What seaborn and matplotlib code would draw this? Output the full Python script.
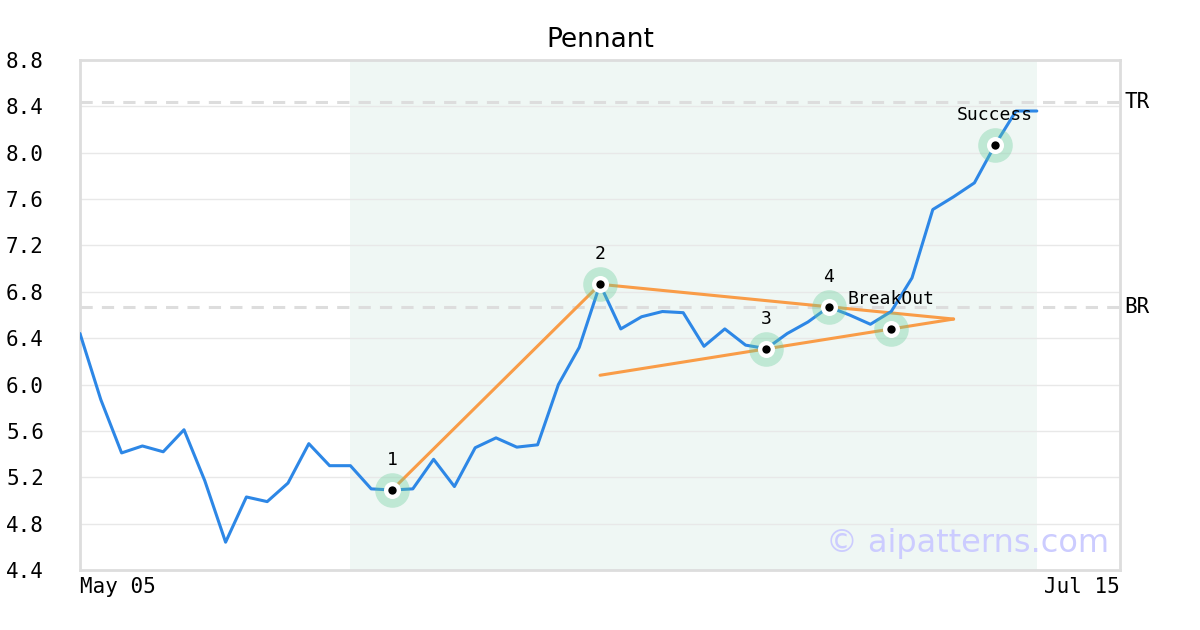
import matplotlib
matplotlib.use("Agg")
import matplotlib.pyplot as plt
import seaborn as sns
import pandas as pd
import numpy as np

# ---- data ----
prices = [6.44, 5.87, 5.41, 5.47, 5.42, 5.61, 5.17, 4.64, 5.03, 4.99,
          5.15, 5.49, 5.30, 5.30, 5.10, 5.09, 5.10, 5.355, 5.12, 5.455,
          5.54, 5.46, 5.48, 6.00, 6.32, 6.865, 6.48, 6.585, 6.63, 6.62,
          6.33, 6.48, 6.34, 6.31, 6.44, 6.54, 6.67, 6.60, 6.52, 6.63,
          6.92, 7.51, 7.62, 7.74, 8.07, 8.36, 8.36]
day_index = list(range(len(prices)))

point_x = [15, 25, 33, 36, 39, 44]
point_y = [5.09, 6.865, 6.31, 6.67, 6.48, 8.07]
point_labels = ["1", "2", "3", "4", "BreakOut", "Success"]

upper_line_x = [15, 25, 42]
upper_line_y = [5.09, 6.865, 6.565]
lower_line_x = [25, 42]
lower_line_y = [6.08, 6.565]

tr_level = 8.44
br_level = 6.67
pattern_start, pattern_end = 13, 46
x_min, x_max = 0, 50
y_ticks = [4.4, 4.8, 5.2, 5.6, 6.0, 6.4, 6.8, 7.2, 7.6, 8.0, 8.4, 8.8]
x_tick_labels = ["May 05", "Jul 15"]

# ---- style ----
sns.set_style("white")
plt.rcParams["font.family"] = ["DejaVu Sans"]
plt.rcParams["text.color"] = "black"
plt.rcParams["xtick.color"] = "black"
plt.rcParams["ytick.color"] = "black"

fig = plt.figure(figsize=(12, 6.3), dpi=100)
ax = fig.add_axes([80 / 1200, 1 - 570 / 630, 1040 / 1200, 510 / 630])

ax.axvspan(pattern_start, pattern_end, color="#eff7f4", zorder=0, lw=0)
for yv in y_ticks:
    ax.axhline(yv, color="#e8e8e8", lw=1, zorder=0.5)
for lv in (tr_level, br_level):
    ax.axhline(lv, color="#dddddd", lw=2.2, ls=(0, (4, 3)), zorder=0.6)

df = pd.DataFrame({"day": day_index, "price": prices})
sns.lineplot(data=df, x="day", y="price", ax=ax, color="#2d87e6", lw=2.2, zorder=3)

ax.plot(upper_line_x, upper_line_y, color="#f99c47", lw=2.2, zorder=2)
ax.plot(lower_line_x, lower_line_y, color="#f99c47", lw=2.2, zorder=2)

ax.scatter(point_x, point_y, s=620, color="#66cc99", alpha=0.35, zorder=4, lw=0)
ax.scatter(point_x, point_y, s=150, color="white", zorder=5, lw=0)
ax.scatter(point_x, point_y, s=36, color="black", zorder=6, lw=0)
for x, y, t in zip(point_x, point_y, point_labels):
    ax.annotate(t, (x, y), xytext=(0, 21.6), textcoords="offset points",
                ha="center", va="center", fontsize=13, family="DejaVu Sans Mono",
                color="black", zorder=7)

ax.set_xlim(x_min, x_max)
ax.set_ylim(y_ticks[0], y_ticks[-1])
ax.set_yticks(y_ticks)
ax.set_yticklabels([f"{v:.1f}" for v in y_ticks], family="DejaVu Sans Mono", fontsize=15)
ax.set_xticks([x_min, x_max])
xt = ax.set_xticklabels(x_tick_labels, family="DejaVu Sans Mono", fontsize=15)
xt[0].set_ha("left")
xt[1].set_ha("right")
ax.tick_params(axis="y", length=0, pad=26, labelcolor="black")
ax.tick_params(axis="x", length=0, pad=5, labelcolor="black")
ax.set_xlabel("")
ax.set_ylabel("")
for s in ax.spines.values():
    s.set_color("#dddddd")
    s.set_linewidth(2)

ax.text(1.004, tr_level, "TR", transform=ax.get_yaxis_transform(), ha="left", va="center",
        fontsize=15, family="DejaVu Sans Mono", color="black")
ax.text(1.004, br_level, "BR", transform=ax.get_yaxis_transform(), ha="left", va="center",
        fontsize=15, family="DejaVu Sans Mono", color="black")

ax.text(0.99, 0.052, "© aipatterns.com", transform=ax.transAxes, ha="right", va="center",
        fontsize=23, color="#ccccff", zorder=8)

fig.text(0.5, 1 - 40 / 630, "Pennant", ha="center", va="center", fontsize=19, color="black")

fig.savefig("out.png", dpi=100)
